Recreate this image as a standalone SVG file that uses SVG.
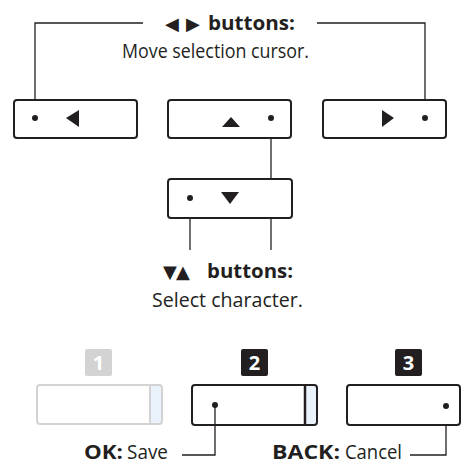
<svg xmlns="http://www.w3.org/2000/svg" width="462" height="464" viewBox="0 0 462 464">
<style>
.btn{fill:#fff;stroke:#231f20;stroke-width:2}
.btn-dim{fill:#fff;stroke:#d3d3d3;stroke-width:2}
.strip{fill:#eaf3fc}
.tri{fill:#231f20}
.dot{fill:#231f20}
.conn{fill:none;stroke:#231f20;stroke-width:1.3}
.b{font-family:"Open Sans","Liberation Sans",sans-serif;font-weight:bold;font-size:20px;fill:#231f20}
.r{font-family:"Open Sans","Liberation Sans",sans-serif;font-size:20px;fill:#231f20}
.bw{font-weight:bold}
.rw{font-weight:normal}
.sym{font-family:"DejaVu Sans",sans-serif;font-size:18px;font-weight:normal}
.num{font-family:"Open Sans","Liberation Sans",sans-serif;font-weight:bold;font-size:20px;fill:#fff;text-anchor:middle}
</style>
<rect width="462" height="464" fill="#fff"/>

<g id="connectors">
<polyline class="conn" points="143,23 35,23 35,118"/>
<polyline class="conn" points="317,23 425,23 425,118"/>
<line class="conn" x1="271" y1="118" x2="271" y2="250"/>
<line class="conn" x1="190" y1="198" x2="190" y2="250"/>
<polyline class="conn" points="215,405 215,455 182,455"/>
<polyline class="conn" points="446,406 446,455 410,455"/>
</g>

<g id="label-lr">
<text class="b" y="30"><tspan class="sym" x="165">◀</tspan><tspan class="sym" x="186">▶</tspan><tspan x="208" textLength="87" lengthAdjust="spacingAndGlyphs">buttons:</tspan></text>
<text class="r" x="122" y="58" textLength="187" lengthAdjust="spacingAndGlyphs">Move selection cursor.</text>
</g>

<g id="btn-left">
<rect class="btn" x="14" y="100" width="123" height="38" rx="3"/>
<polygon class="tri" points="66,118 79,110 79,127"/>
<circle class="dot" cx="35" cy="118" r="3"/>
</g>

<g id="btn-up">
<rect class="btn" x="168" y="100" width="123" height="38" rx="3"/>
<polygon class="tri" points="222,127 240,127 231,117"/>
<circle class="dot" cx="271" cy="118" r="3"/>
</g>

<g id="btn-right">
<rect class="btn" x="323" y="100" width="123" height="38" rx="3"/>
<polygon class="tri" points="382,110 382,127 394,118"/>
<circle class="dot" cx="425" cy="118" r="3"/>
</g>

<g id="btn-down">
<rect class="btn" x="168" y="179" width="124" height="39" rx="3"/>
<polygon class="tri" points="221,192 239,192 230,204"/>
<circle class="dot" cx="190" cy="198" r="3"/>
</g>

<g id="label-ud">
<text class="b" y="278"><tspan class="sym" x="163">▼</tspan><tspan class="sym" x="176">▲</tspan><tspan x="207" textLength="86" lengthAdjust="spacingAndGlyphs">buttons:</tspan></text>
<text class="r" x="152" y="307" textLength="151" lengthAdjust="spacingAndGlyphs">Select character.</text>
</g>

<g id="key-1">
<rect x="85" y="349" width="27" height="27" rx="2" fill="#d3d3d3"/>
<text class="num" x="98.5" y="370">1</text>
<rect class="strip" x="150" y="385" width="12" height="39"/>
<rect class="btn-dim" x="37" y="385" width="125" height="39" rx="3" style="fill:none"/>
<line x1="150" y1="385" x2="150" y2="424" stroke="#d3d3d3" stroke-width="2"/>
</g>

<g id="key-2">
<rect x="241" y="349" width="27" height="27" rx="2" fill="#231f20"/>
<text class="num" x="254.5" y="370">2</text>
<rect class="strip" x="305" y="385" width="12" height="40"/>
<rect class="btn" x="192" y="385" width="125" height="40" rx="3" style="fill:none"/>
<line x1="305" y1="385" x2="305" y2="425" stroke="#231f20" stroke-width="2.5"/>
<circle class="dot" cx="215" cy="405" r="3"/>
</g>

<g id="key-3">
<rect x="395" y="349" width="27" height="27" rx="2" fill="#231f20"/>
<text class="num" x="408.5" y="370">3</text>
<rect class="btn" x="347" y="385" width="113" height="40" rx="3"/>
<circle class="dot" cx="446" cy="406" r="3"/>
</g>

<g id="label-ok">
<text class="r" y="459"><tspan class="bw" x="84" textLength="39" lengthAdjust="spacingAndGlyphs">OK:</tspan><tspan class="rw" x="127" textLength="41" lengthAdjust="spacingAndGlyphs">Save</tspan></text>
</g>

<g id="label-back">
<text class="r" y="459"><tspan class="bw" x="272" textLength="68" lengthAdjust="spacingAndGlyphs">BACK:</tspan><tspan class="rw" x="345" textLength="57" lengthAdjust="spacingAndGlyphs">Cancel</tspan></text>
</g>
</svg>
